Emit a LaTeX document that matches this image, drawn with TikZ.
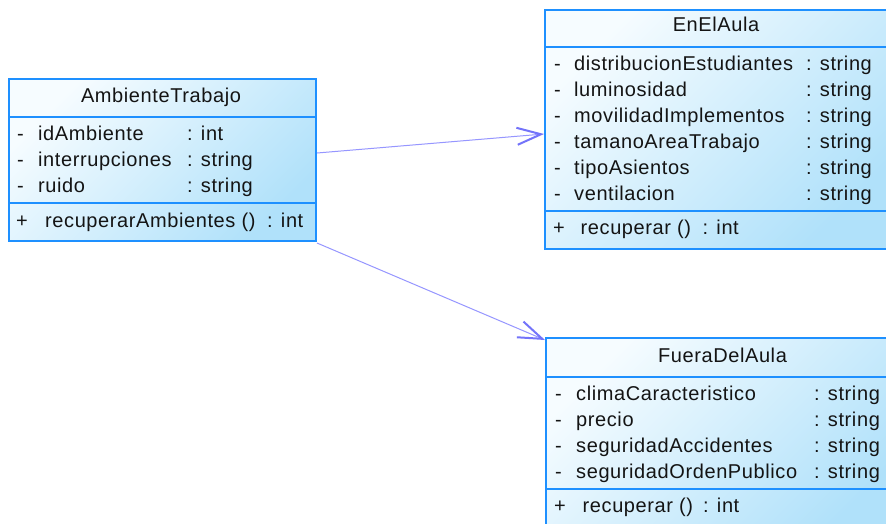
\documentclass[tikz,border=0pt]{standalone}
\usepackage{fontspec}
\setmainfont{Liberation Sans}[LetterSpace=3]
\usetikzlibrary{arrows.meta,calc}
\definecolor{umlborder}{RGB}{30,144,255}
\definecolor{umllight}{RGB}{246,252,255}
\definecolor{umldark}{RGB}{176,225,250}
\definecolor{assocline}{RGB}{150,150,255}
\definecolor{assoctip}{RGB}{115,115,250}
\definecolor{umltext}{RGB}{20,20,20}
\tikzset{
  umlbox/.style={draw=umlborder, line width=2pt, rectangle, inner sep=0pt, anchor=north west,
    top color=umllight, bottom color=umldark, shading angle=45},
  divider/.style={draw=umlborder, line width=2pt},
  txt/.style={anchor=base west, inner sep=0pt, text=umltext, font=\fontsize{20}{23}\selectfont},
  ttl/.style={anchor=base, inner sep=0pt, text=umltext, font=\fontsize{20}{23}\selectfont},
  assoc/.style={draw=assocline, line width=1pt,
    -{Straight Barb[length=24pt,width=17pt,line width=2pt,color=assoctip]}},
}
\begin{document}
\begin{tikzpicture}[x=1pt,y=-1pt]
\useasboundingbox (0,0) rectangle (886,523);
\clip (0,0) rectangle (886,523);
\fill[white] (0,0) rectangle (886,523);

% AmbienteTrabajo
\node[umlbox, minimum width=307pt, minimum height=162pt] (amb) at (8,78) {};
\draw[divider] (amb.west |- 0,117) -- (amb.east |- 0,117);
\draw[divider] (amb.west |- 0,203) -- (amb.east |- 0,203);
\node[ttl] (ambt) at (161,102) {AmbienteTrabajo};
\node[txt] (a1m) at (17,140) {-};
\node[txt] (a1n) at (38,140) {idAmbiente};
\node[txt] (a1t) at (187,140) {: int};
\node[txt] (a2m) at (17,166.5) {-};
\node[txt] (a2n) at (38,166.5) {interrupciones};
\node[txt] (a2t) at (187,166.5) {: string};
\node[txt] (a3m) at (17,192.5) {-};
\node[txt] (a3n) at (38,192.5) {ruido};
\node[txt] (a3t) at (187,192.5) {: string};
\node[txt] (amp) at (16,227) {+};
\node[txt] (amn) at (45,227) {recuperarAmbientes ()};
\node[txt] (amt) at (267,227) {: int};

% EnElAula
\node[umlbox, minimum width=345pt, minimum height=239pt] (en) at (544,9) {};
\draw[divider] (en.west |- 0,47) -- (en.east |- 0,47);
\draw[divider] (en.west |- 0,211) -- (en.east |- 0,211);
\node[ttl] (ent) at (716,31) {EnElAula};
\node[txt] (e1m) at (554,70.7) {-};
\node[txt] (e1n) at (574,70.7) {distribucionEstudiantes};
\node[txt] (e1t) at (806,70.7) {: string};
\node[txt] (e2m) at (554,96.7) {-};
\node[txt] (e2n) at (574,96.7) {luminosidad};
\node[txt] (e2t) at (806,96.7) {: string};
\node[txt] (e3m) at (554,122.5) {-};
\node[txt] (e3n) at (574,122.5) {movilidadImplementos};
\node[txt] (e3t) at (806,122.5) {: string};
\node[txt] (e4m) at (554,148.3) {-};
\node[txt] (e4n) at (574,148.3) {tamanoAreaTrabajo};
\node[txt] (e4t) at (806,148.3) {: string};
\node[txt] (e5m) at (554,174.2) {-};
\node[txt] (e5n) at (574,174.2) {tipoAsientos};
\node[txt] (e5t) at (806,174.2) {: string};
\node[txt] (e6m) at (554,200) {-};
\node[txt] (e6n) at (574,200) {ventilacion};
\node[txt] (e6t) at (806,200) {: string};
\node[txt] (emp) at (553,234) {+};
\node[txt] (emn) at (580.5,234) {recuperar ()};
\node[txt] (emt) at (702.5,234) {: int};

% FueraDelAula
\node[umlbox, minimum width=355pt, minimum height=200pt] (fu) at (545,337) {};
\draw[divider] (fu.west |- 0,377) -- (fu.east |- 0,377);
\draw[divider] (fu.west |- 0,489) -- (fu.east |- 0,489);
\node[ttl] (fut) at (722.5,362) {FueraDelAula};
\node[txt] (f1m) at (555,400.7) {-};
\node[txt] (f1n) at (576,400.7) {climaCaracteristico};
\node[txt] (f1t) at (814,400.7) {: string};
\node[txt] (f2m) at (555,426.7) {-};
\node[txt] (f2n) at (576,426.7) {precio};
\node[txt] (f2t) at (814,426.7) {: string};
\node[txt] (f3m) at (555,452.3) {-};
\node[txt] (f3n) at (576,452.3) {seguridadAccidentes};
\node[txt] (f3t) at (814,452.3) {: string};
\node[txt] (f4m) at (555,478.3) {-};
\node[txt] (f4n) at (576,478.3) {seguridadOrdenPublico};
\node[txt] (f4t) at (814,478.3) {: string};
\node[txt] (fmp) at (554,512) {+};
\node[txt] (fmn) at (582.5,512) {recuperar ()};
\node[txt] (fmt) at (703,512) {: int};

% associations
\draw[assoc] ([yshift=7pt]amb.east) -- ([yshift=-4.5pt]en.west);
\draw[assoc] ([yshift=-1pt]amb.south east) -- ([yshift=-3pt]fu.north west);
\end{tikzpicture}
\end{document}
